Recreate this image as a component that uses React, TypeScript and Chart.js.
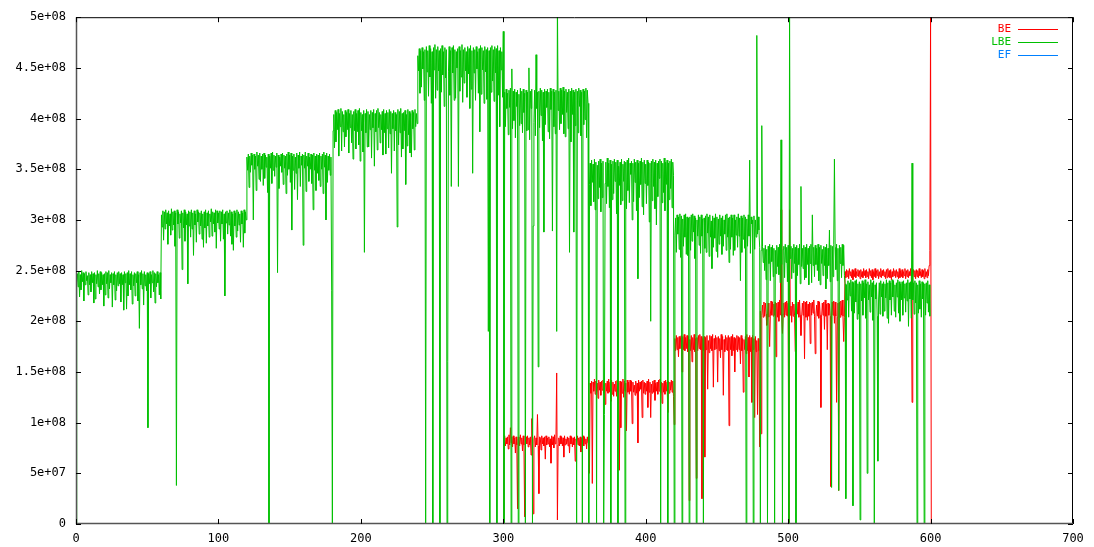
import { useEffect, useRef } from "react";
import { Chart, registerables } from "chart.js";

Chart.register(...registerables);

// ---------- data (values in units of 1e6), two samples per x unit ----------
const seriesNames = ["BE", "LBE", "EF"];
const seriesColors = ["#ff0000", "#00c000", "#0080ff"];
const xTickLabels = ["0", "100", "200", "300", "400", "500", "600", "700"];
const yTickLabels = ["0", "5e+07", "1e+08", "1.5e+08", "2e+08", "2.5e+08", "3e+08", "3.5e+08", "4e+08", "4.5e+08", "5e+08"];

// LBE (green)
const lbe000 = [
  0, 238, 247, 234, 249, 224, 246, 231, 250, 239, 248, 220, 247, 236, 249, 240, 245, 226, 248, 236,
  246, 229, 249, 238, 247, 218, 248, 222, 246, 237, 250, 234, 247, 227, 249, 231, 248, 236, 246, 215,
  247, 226, 249, 237, 248, 223, 250, 232, 246, 238, 248, 214, 247, 236, 249, 221, 246, 230, 248, 235,
  249, 237, 247, 219, 248, 236, 246, 211, 249, 238, 247, 212, 248, 225, 250, 236, 247, 231, 249, 217,
  246, 235, 248, 225, 247, 238, 249, 220, 246, 193, 248, 236, 250, 232, 247, 216, 249, 235, 246, 230,
  248, 95, 247, 237, 249, 223, 246, 238, 250, 229, 248, 218, 247, 234, 249, 238, 246, 226, 248, 222,
];
const lbe060 = [
  305, 293, 309, 280, 308, 291, 310, 296, 307, 276, 309, 294, 306, 285, 311, 290, 308, 295, 309, 274,
  307, 38, 310, 296, 308, 282, 306, 297, 309, 251, 307, 292, 310, 279, 308, 295, 306, 237, 309, 294,
  308, 283, 310, 291, 307, 265, 309, 295, 306, 278, 310, 298, 308, 286, 307, 294, 309, 281, 306, 273,
  308, 292, 310, 277, 307, 294, 309, 283, 306, 298, 311, 284, 308, 296, 307, 288, 310, 272, 309, 297,
  307, 291, 309, 279, 308, 296, 310, 281, 306, 225, 308, 297, 309, 286, 307, 295, 310, 284, 308, 276,
  306, 270, 309, 294, 307, 283, 310, 289, 308, 295, 306, 278, 309, 296, 307, 273, 310, 287, 308, 300,
];
const lbe120 = [
  362, 349, 365, 332, 363, 347, 366, 354, 364, 300, 365, 350, 363, 329, 367, 353, 364, 340, 366, 338,
  363, 350, 365, 334, 366, 341, 364, 352, 362, 327, 365, 0, 363, 351, 366, 336, 367, 349, 364, 343,
  363, 352, 366, 248, 364, 331, 362, 353, 365, 347, 366, 335, 364, 351, 363, 326, 365, 344, 367, 350,
  364, 337, 366, 290, 363, 349, 365, 330, 362, 346, 366, 320, 364, 351, 367, 333, 363, 354, 365, 275,
  364, 351, 367, 328, 363, 353, 366, 338, 362, 350, 365, 336, 364, 310, 366, 349, 363, 329, 365, 346,
  364, 339, 366, 333, 363, 350, 365, 326, 367, 352, 364, 300, 366, 337, 363, 349, 365, 344, 362, 230,
];
const lbe180 = [
  0, 388, 404, 371, 408, 377, 406, 389, 409, 363, 405, 392, 410, 368, 407, 387, 404, 372, 408, 382,
  406, 389, 409, 366, 405, 391, 408, 376, 404, 360, 407, 388, 409, 370, 405, 387, 408, 374, 410, 358,
  406, 388, 404, 367, 408, 268, 405, 386, 409, 372, 407, 372, 404, 389, 408, 361, 406, 391, 409, 353,
  405, 387, 408, 369, 410, 391, 406, 376, 404, 389, 407, 364, 409, 386, 405, 365, 408, 390, 406, 371,
  409, 385, 407, 346, 405, 390, 408, 368, 406, 388, 404, 293, 409, 374, 407, 386, 410, 362, 405, 370,
  406, 388, 408, 335, 404, 373, 409, 384, 407, 366, 405, 362, 408, 390, 406, 369, 409, 392, 405, 395,
];
const lbe240 = [
  462, 447, 469, 425, 467, 431, 470, 449, 466, 418, 468, 0, 471, 446, 467, 422, 472, 441, 469, 415,
  466, 0, 470, 448, 473, 420, 468, 428, 471, 447, 467, 0, 469, 426, 472, 443, 466, 412, 470, 440,
  468, 0, 160, 446, 471, 423, 467, 333, 470, 445, 472, 418, 468, 420, 466, 450, 469, 333, 471, 427,
  467, 441, 473, 416, 468, 435, 470, 447, 466, 421, 471, 444, 469, 410, 472, 429, 467, 346, 470, 445,
  468, 418, 471, 449, 466, 425, 469, 387, 472, 424, 470, 448, 467, 415, 471, 446, 468, 419, 470, 190,
  467, 0, 470, 426, 472, 437, 468, 417, 471, 445, 469, 0, 472, 423, 467, 392, 470, 448, 466, 421,
];
const lbe300 = [
  486, 0, 426, 392, 429, 410, 425, 384, 428, 411, 430, 0, 449, 390, 427, 398, 429, 381, 426, 412,
  428, 0, 424, 393, 430, 395, 427, 386, 429, 406, 425, 0, 428, 388, 426, 389, 450, 379, 427, 410,
  429, 0, 294, 396, 428, 383, 463, 410, 426, 155, 427, 391, 430, 403, 428, 378, 426, 288, 429, 394,
  427, 411, 429, 387, 426, 380, 430, 409, 427, 289, 429, 392, 426, 385, 428, 190, 520, 408, 427, 389,
  430, 395, 428, 404, 431, 385, 427, 382, 429, 406, 426, 390, 429, 268, 427, 377, 430, 404, 428, 288,
  426, 393, 429, 0, 427, 386, 430, 412, 428, 383, 426, 0, 429, 394, 427, 399, 430, 381, 428, 415,
];
const lbe360 = [
  0, 335, 356, 314, 359, 337, 355, 318, 360, 310, 357, 0, 354, 321, 358, 332, 360, 308, 356, 322,
  358, 0, 108, 336, 357, 316, 361, 333, 356, 312, 359, 0, 355, 320, 358, 326, 360, 338, 357, 306,
  359, 0, 353, 334, 357, 315, 360, 319, 355, 338, 358, 0, 357, 311, 359, 329, 361, 317, 356, 345,
  358, 300, 356, 318, 360, 337, 357, 309, 359, 242, 356, 322, 358, 335, 361, 313, 357, 305, 359, 336,
  355, 316, 359, 334, 357, 298, 356, 200, 358, 319, 360, 333, 357, 311, 359, 295, 356, 323, 358, 341,
  360, 0, 358, 317, 356, 327, 361, 309, 357, 335, 359, 0, 356, 320, 358, 331, 360, 312, 357, 344,
];
const lbe420 = [
  0, 285, 302, 268, 305, 286, 303, 271, 306, 263, 304, 0, 301, 274, 305, 283, 306, 266, 303, 265,
  302, 0, 303, 270, 305, 279, 306, 288, 304, 262, 302, 0, 300, 284, 305, 275, 303, 267, 305, 284,
  301, 0, 302, 272, 304, 268, 306, 287, 303, 264, 305, 283, 299, 252, 304, 273, 302, 282, 306, 269,
  303, 263, 301, 276, 305, 284, 302, 266, 304, 274, 300, 286, 305, 270, 306, 283, 302, 258, 303, 271,
  305, 283, 302, 265, 305, 270, 300, 285, 303, 273, 306, 284, 302, 240, 304, 268, 302, 281, 305, 272,
  303, 0, 301, 274, 305, 284, 359, 267, 303, 296, 300, 0, 304, 271, 300, 283, 482, 286, 303, 290,
];
const lbe480 = [
  273, 0, 270, 393, 274, 258, 272, 250, 275, 241, 271, 0, 274, 257, 276, 240, 273, 259, 275, 244,
  272, 0, 270, 247, 275, 254, 273, 246, 276, 238, 379, 256, 0, 271, 274, 243, 276, 258, 273, 239,
  275, 0, 510, 262, 274, 242, 272, 248, 276, 257, 273, 0, 275, 245, 272, 256, 276, 237, 333, 254,
  272, 252, 275, 241, 273, 243, 276, 256, 272, 236, 274, 257, 276, 238, 305, 255, 273, 244, 275, 256,
  272, 250, 276, 240, 273, 236, 275, 257, 271, 245, 274, 255, 273, 232, 276, 242, 272, 255, 290, 239,
  275, 36, 274, 244, 276, 360, 273, 251, 276, 240, 272, 33, 275, 257, 273, 243, 276, 255, 275, 245,
];
const lbe540 = [
  237, 25, 236, 221, 240, 204, 238, 225, 241, 210, 239, 18, 238, 208, 240, 219, 241, 202, 237, 207,
  239, 4, 237, 220, 240, 206, 238, 223, 241, 203, 237, 50, 239, 221, 236, 209, 241, 224, 238, 201,
  240, 0, 236, 222, 238, 205, 62, 221, 238, 207, 240, 224, 237, 205, 239, 210, 237, 223, 241, 203,
  238, 198, 240, 221, 238, 206, 241, 224, 240, 210, 236, 204, 238, 224, 241, 208, 239, 200, 237, 221,
  239, 206, 240, 223, 237, 209, 238, 220, 241, 195, 238, 222, 239, 203, 356, 221, 238, 207, 240, 218,
  238, 0, 236, 208, 240, 212, 237, 204, 239, 222, 238, 0, 237, 206, 238, 218, 240, 209, 236, 205,
];

// BE (red)
const be300 = [
  0, 84, 87, 77, 85, 79, 86, 74, 88, 78, 95, 80, 86, 76, 87, 79, 85, 70, 86, 78,
  15, 84, 86, 77, 88, 79, 85, 72, 87, 78, 7, 85, 86, 79, 87, 76, 85, 78, 86, 68,
  104, 79, 10, 84, 87, 76, 85, 78, 108, 77, 30, 86, 85, 73, 87, 79, 85, 77, 86, 64,
  87, 78, 85, 79, 86, 76, 84, 60, 87, 78, 86, 75, 88, 79, 85, 149, 4, 78, 85, 77,
  87, 79, 86, 77, 85, 66, 87, 78, 84, 79, 86, 77, 85, 70, 87, 79, 86, 76, 85, 78,
  86, 62, 84, 79, 87, 78, 85, 77, 86, 71, 85, 78, 87, 77, 86, 79, 84, 74, 86, 80,
];
const be360 = [
  84, 50, 139, 129, 141, 40, 140, 131, 143, 128, 141, 130, 139, 124, 142, 132, 140, 127, 141, 132,
  142, 129, 140, 118, 139, 131, 141, 129, 143, 130, 140, 121, 142, 128, 140, 126, 138, 131, 141, 126,
  142, 130, 139, 53, 141, 95, 140, 129, 143, 125, 141, 131, 139, 92, 142, 130, 140, 128, 142, 131,
  141, 99, 140, 130, 137, 127, 141, 129, 139, 80, 142, 131, 140, 133, 141, 105, 142, 129, 140, 128,
  139, 131, 141, 115, 143, 130, 140, 105, 138, 129, 141, 130, 142, 122, 139, 131, 140, 128, 142, 131,
  143, 129, 140, 119, 139, 130, 141, 128, 142, 131, 140, 110, 141, 129, 140, 132, 142, 130, 141, 126,
];
const be420 = [
  98, 183, 171, 186, 172, 184, 165, 185, 173, 184, 186, 150, 185, 172, 187, 171, 184, 173, 186, 170,
  185, 23, 182, 171, 186, 160, 184, 172, 187, 170, 183, 45, 184, 171, 186, 173, 187, 172, 185, 25,
  183, 171, 185, 66, 184, 172, 186, 133, 181, 169, 186, 173, 185, 171, 187, 135, 183, 172, 186, 173,
  184, 140, 185, 171, 183, 164, 187, 172, 185, 127, 182, 170, 186, 172, 184, 171, 186, 97, 184, 172,
  185, 166, 187, 171, 184, 150, 183, 172, 186, 170, 185, 172, 184, 158, 186, 171, 183, 130, 182, 172,
  185, 168, 187, 171, 184, 145, 186, 170, 184, 120, 186, 172, 183, 105, 185, 170, 181, 108, 183, 171,
];
const be480 = [
  76, 210, 89, 206, 216, 204, 219, 205, 218, 207, 196, 206, 218, 204, 175, 205, 220, 206, 219, 205,
  217, 206, 219, 165, 218, 204, 219, 200, 221, 206, 310, 205, 188, 207, 218, 204, 219, 206, 220, 205,
  218, 0, 310, 206, 215, 199, 219, 205, 217, 206, 170, 205, 217, 207, 219, 204, 221, 206, 186, 205,
  218, 206, 220, 163, 219, 204, 220, 201, 217, 205, 219, 178, 218, 206, 219, 208, 221, 205, 168, 206,
  216, 205, 220, 203, 219, 206, 115, 204, 218, 206, 219, 192, 221, 205, 217, 172, 218, 206, 217, 205,
  37, 205, 219, 206, 220, 198, 219, 205, 120, 204, 218, 33, 219, 204, 220, 206, 221, 205, 180, 204,
];
const be540 = [
  249, 243, 251, 244, 250, 242, 252, 245, 249, 243, 251, 241, 250, 244, 252, 243, 249, 245, 251, 244,
  250, 242, 251, 244, 249, 243, 252, 245, 250, 243, 251, 244, 249, 242, 252, 245, 250, 243, 251, 241,
  249, 244, 252, 243, 250, 245, 251, 242, 249, 244, 252, 243, 250, 245, 251, 244, 249, 242, 251, 243,
  252, 244, 250, 243, 251, 241, 249, 244, 252, 245, 250, 243, 251, 244, 249, 242, 252, 243, 250, 244,
  251, 243, 249, 245, 252, 242, 250, 244, 251, 243, 249, 245, 252, 244, 120, 243, 251, 244, 250, 242,
  251, 244, 250, 243, 252, 245, 249, 243, 251, 244, 250, 242, 252, 244, 249, 243, 251, 245, 255, 270,
  500, 0,
];

const SAMPLES_PER_UNIT = 2;
const lbeSegments: [number, number[]][] = [
  [0, lbe000], [60, lbe060], [120, lbe120], [180, lbe180], [240, lbe240],
  [300, lbe300], [360, lbe360], [420, lbe420], [480, lbe480], [540, lbe540],
];
const beSegments: [number, number[]][] = [
  [300, be300], [360, be360], [420, be420], [480, be480], [540, be540],
];
const efSegments: [number, number[]][] = [];

function toPoints(segs: [number, number[]][]) {
  const pts: { x: number; y: number }[] = [];
  for (const [start, vals] of segs) {
    vals.forEach((v, i) => pts.push({ x: start + i / SAMPLES_PER_UNIT, y: v }));
  }
  return pts;
}

const MONO = "'DejaVu Sans Mono', 'Liberation Mono', monospace";

const framePlugin = {
  id: "gnuplotFrame",
  afterDraw(chart: any) {
    const { ctx, chartArea } = chart;
    const { left, right, top, bottom } = chartArea;
    const xs = chart.scales.x;
    const ys = chart.scales.y;
    ctx.save();
    ctx.lineWidth = 1;
    ctx.strokeStyle = "#000";
    ctx.beginPath();
    ctx.moveTo(left + 0.5, top + 0.5);
    ctx.lineTo(right - 0.5, top + 0.5);
    ctx.lineTo(right - 0.5, bottom - 0.5);
    ctx.stroke();
    ctx.strokeStyle = "#555";
    ctx.lineWidth = 1.5;
    ctx.beginPath();
    ctx.moveTo(left + 0.5, top);
    ctx.lineTo(left + 0.5, bottom - 0.5);
    ctx.lineTo(right, bottom - 0.5);
    ctx.stroke();
    ctx.lineWidth = 1;
    ctx.strokeStyle = "#000";
    ctx.beginPath();
    ys.ticks.forEach((t: any) => {
      const py = Math.round(ys.getPixelForValue(t.value)) + 0.5;
      ctx.moveTo(left, py);
      ctx.lineTo(left + 5, py);
      ctx.moveTo(right - 5, py);
      ctx.lineTo(right, py);
    });
    xs.ticks.forEach((t: any) => {
      const px = Math.round(xs.getPixelForValue(t.value)) + 0.5;
      ctx.moveTo(px, bottom);
      ctx.lineTo(px, bottom - 5);
      ctx.moveTo(px, top);
      ctx.lineTo(px, top + 5);
    });
    ctx.stroke();
    ctx.font = `11px ${MONO}`;
    ctx.textAlign = "right";
    ctx.textBaseline = "middle";
    chart.data.datasets.forEach((ds: any, i: number) => {
      const yy = top + 11.5 + 13 * i;
      ctx.fillStyle = ds.borderColor;
      ctx.fillText(ds.label, right - 62, yy);
      ctx.strokeStyle = ds.borderColor;
      ctx.lineWidth = 1;
      ctx.beginPath();
      ctx.moveTo(right - 55, Math.round(yy) + 0.5);
      ctx.lineTo(right - 15, Math.round(yy) + 0.5);
      ctx.stroke();
    });
    ctx.restore();
  },
};

export default function App() {
  const ref = useRef<HTMLCanvasElement | null>(null);
  useEffect(() => {
    if (!ref.current) return;
    const segs = [beSegments, lbeSegments, efSegments];
    const chart = new Chart(ref.current, {
      type: "line",
      data: {
        datasets: seriesNames.map((name, i) => ({
          label: name,
          data: toPoints(segs[i]),
          borderColor: seriesColors[i],
          backgroundColor: seriesColors[i],
          borderWidth: 1,
          pointRadius: 0,
          fill: false,
          tension: 0,
          borderJoinStyle: "bevel" as const,
          order: i === 1 ? 0 : i === 0 ? 1 : 2,
        })),
      },
      options: {
        animation: false,
        responsive: true,
        maintainAspectRatio: false,
        layout: { padding: { left: 0, right: 21, top: 13, bottom: 0 } },
        plugins: { legend: { display: false }, tooltip: { enabled: false } },
        scales: {
          x: {
            type: "linear",
            min: 0,
            max: 700,
            grid: { display: false, drawTicks: false },
            border: { display: false },
            ticks: {
              stepSize: 100,
              autoSkip: false,
              maxRotation: 0,
              padding: 8,
              color: "#000",
              font: { family: MONO, size: 12 },
              callback: (_v: any, i: number) => xTickLabels[i],
            },
            afterFit: (s: any) => { s.height = 23; },
          },
          y: {
            type: "linear",
            min: 0,
            max: 500,
            grid: { display: false, drawTicks: false },
            border: { display: false },
            ticks: {
              stepSize: 50,
              autoSkip: false,
              padding: 10,
              color: "#000",
              font: { family: MONO, size: 12 },
              callback: (_v: any, i: number) => yTickLabels[i],
            },
            afterFit: (s: any) => { s.width = 76; },
          },
        },
      },
      plugins: [framePlugin],
    });
    return () => chart.destroy();
  }, []);
  return (
    <div style={{ position: "fixed", left: 0, top: 0, width: 1094, height: 547, background: "#fff" }}>
      <canvas ref={ref} />
    </div>
  );
}
